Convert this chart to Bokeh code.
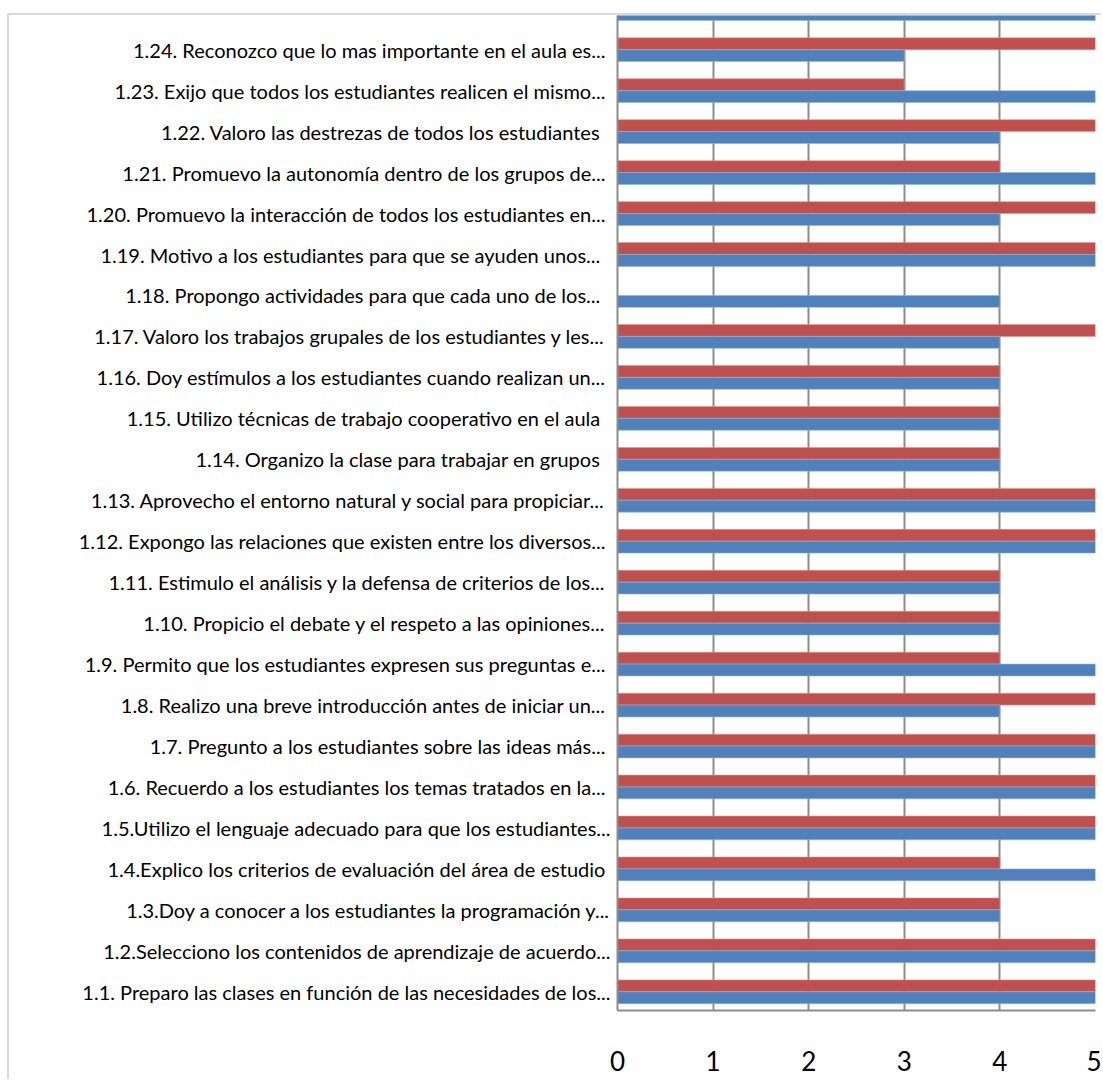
from bokeh.plotting import figure
from bokeh.models import ColumnDataSource, Range1d, FixedTicker
from bokeh.transform import dodge
from bokeh.embed import file_html
from bokeh.resources import INLINE

labels = [
    "1.1. Preparo las clases en función de las necesidades de los...",
    "1.2.Selecciono los contenidos de aprendizaje de acuerdo...",
    "1.3.Doy a conocer a los estudiantes la programación y...",
    "1.4.Explico los criterios de evaluación del área de estudio ",
    "1.5.Utilizo el lenguaje adecuado para que los estudiantes...",
    "1.6.  Recuerdo a los estudiantes los temas tratados en la...",
    "1.7.  Pregunto a los estudiantes sobre las ideas más...",
    "1.8.  Realizo una breve introducción antes de iniciar un...",
    "1.9.  Permito que los estudiantes expresen sus preguntas e...",
    "1.10.  Propicio el debate y el respeto a las opiniones...",
    "1.11.  Estimulo el análisis y la defensa de criterios de los...",
    "1.12.  Expongo las relaciones que existen entre los diversos...",
    "1.13.  Aprovecho el entorno natural y social para propiciar...",
    "1.14.  Organizo la clase para trabajar en grupos ",
    "1.15.  Utilizo técnicas de trabajo cooperativo en el aula ",
    "1.16.  Doy estímulos a los estudiantes cuando realizan un...",
    "1.17.  Valoro los trabajos grupales de los estudiantes y les...",
    "1.18.  Propongo actividades para  que cada uno de los...",
    "1.19.  Motivo  a los estudiantes para que se ayuden unos...",
    "1.20.  Promuevo la interacción de todos los estudiantes en...",
    "1.21.  Promuevo la autonomía dentro de los grupos de...",
    "1.22.  Valoro las destrezas de todos los estudiantes ",
    "1.23.  Exijo que todos los estudiantes realicen el mismo...",
    "1.24.  Reconozco que lo mas importante en el aula es...",
    "1.25.  Promuevo la competencia entre unos y otros.",
]

# series drawn lower in each group (blue) and upper (red)
blue_values = [5, 5, 4, 5, 5, 5, 5, 4, 5, 4, 4, 5, 5, 4, 4, 4, 4, 4, 5, 4, 5, 4, 5, 3, 5]
red_values = [5, 5, 4, 4, 5, 5, 5, 5, 4, 4, 4, 5, 5, 4, 4, 4, 5, 0, 5, 5, 4, 5, 3, 5, 5]

x_ticks = [0, 1, 2, 3, 4, 5]

positions = list(range(1, len(labels) + 1))
src = ColumnDataSource(dict(pos=positions, blue=blue_values, red=red_values))

BAR = 0.29

p = figure(width=1094, height=1066, output_backend="svg", toolbar_location=None,
           x_range=Range1d(0, 5), y_range=Range1d(0.543, 24.835),
           min_border_left=608, min_border_right=8, min_border_top=0, min_border_bottom=71)
p.outline_line_color = None
p.background_fill_color = "white"
p.border_fill_color = "white"

p.hbar(y=dodge("pos", BAR / 2, range=p.y_range), left=0, right="red", height=BAR,
       source=src, fill_color="#C0504D", line_color="#D99795", line_width=0.6)
p.hbar(y=dodge("pos", -BAR / 2, range=p.y_range), left=0, right="blue", height=BAR,
       source=src, fill_color="#4F81BD", line_color="#95B3D7", line_width=0.6)

# x axis
p.xaxis.ticker = FixedTicker(ticks=x_ticks)
p.xaxis.axis_line_color = "#8c8c8c"
p.xaxis.axis_line_width = 2
p.xaxis.major_tick_line_color = None
p.xaxis.minor_tick_line_color = None
p.xaxis.major_label_standoff = 34
p.xaxis.major_label_text_font = "Lato"
p.xaxis.major_label_text_font_size = "26px"
p.xaxis.major_label_text_color = "black"

# y axis
p.yaxis.ticker = FixedTicker(ticks=positions)
p.yaxis.major_label_overrides = {pos: lab for pos, lab in zip(positions, labels)}
p.yaxis.axis_line_color = "#8c8c8c"
p.yaxis.axis_line_width = 2
p.yaxis.major_tick_line_color = None
p.yaxis.minor_tick_line_color = None
p.yaxis.major_label_standoff = 1
p.yaxis.major_label_text_font = "Lato"
p.yaxis.major_label_text_font_size = "20px"
p.yaxis.major_label_text_color = "black"

p.xgrid.grid_line_color = "#8c8c8c"
p.xgrid.grid_line_width = 2
p.ygrid.grid_line_color = None

p.styles = {"margin-top": "13px", "margin-left": "7px",
            "border-top": "2px solid #d9d9d9", "border-left": "2px solid #d9d9d9"}

open("out.html", "w").write(file_html(p, INLINE))
